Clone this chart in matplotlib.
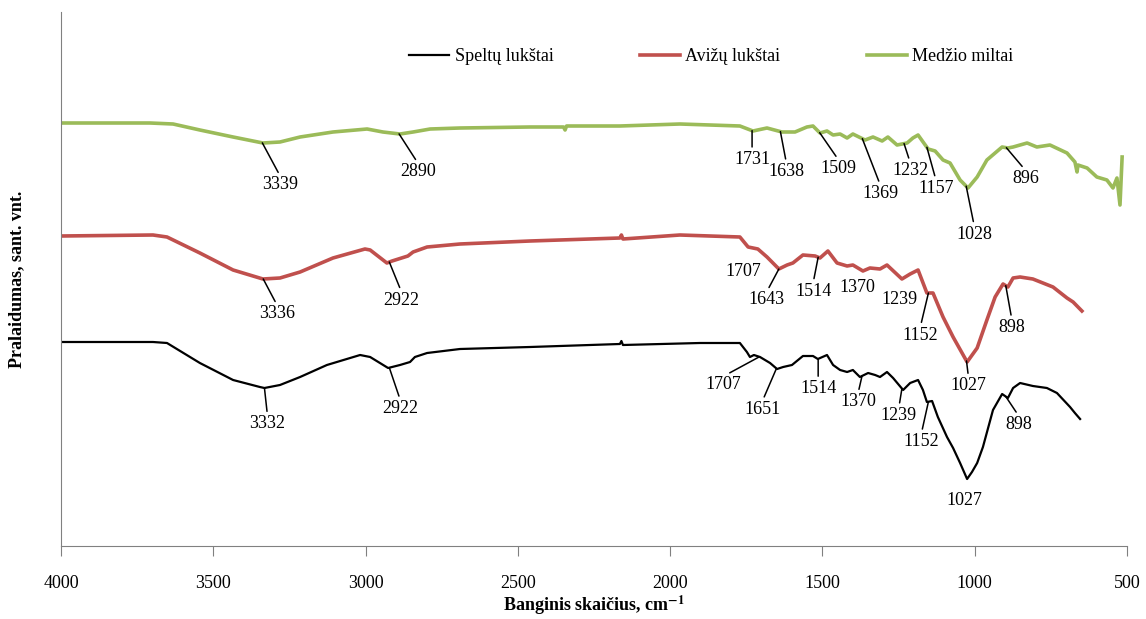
import matplotlib.pyplot as plt
import numpy as np

plt.rcParams['font.family'] = ['Liberation Serif', 'DejaVu Serif']
plt.rcParams['mathtext.fontset'] = 'stix'

# Speltų lukštai (juoda)
spelt_x = [4000, 3698, 3652, 3544, 3435, 3347, 3332, 3281, 3215, 3127, 3018, 2985, 2926, 2887,
           2854, 2838, 2798, 2690, 2460, 2165, 2160, 2155, 1902, 1771, 1748, 1738, 1725, 1705,
           1672, 1649, 1629, 1600, 1580, 1564, 1531, 1515, 1485, 1465, 1442, 1419, 1400, 1377,
           1350, 1327, 1311, 1288, 1268, 1235, 1212, 1186, 1170, 1157, 1140, 1121, 1091, 1071,
           1048, 1025, 1009, 992, 973, 940, 910, 891, 874, 851, 809, 763, 730, 687, 671, 654]
spelt_y = [204, 204, 203, 183, 166, 159, 158, 161, 169, 181, 191, 189, 178, 181,
           184, 189, 193, 197, 199, 202, 205, 201, 203, 203, 194, 189, 191, 189,
           183, 177, 179, 181, 186, 190, 190, 187, 191, 181, 176, 174, 176, 169,
           173, 171, 169, 174, 168, 156, 163, 166, 156, 144, 145, 129, 109, 98,
           83, 67, 74, 83, 99, 136, 152, 148, 158, 163, 160, 158, 153, 139, 133, 127]

# Avižų lukštai (raudona)
oat_x = [4000, 3698, 3652, 3544, 3435, 3337, 3281, 3215, 3107, 3002, 2985, 2930, 2913, 2861,
         2844, 2798, 2690, 2460, 2165, 2160, 2155, 1968, 1771, 1744, 1712, 1682, 1643, 1616,
         1597, 1564, 1524, 1508, 1482, 1452, 1419, 1400, 1367, 1344, 1311, 1288, 1239, 1212,
         1186, 1157, 1137, 1104, 1071, 1025, 992, 960, 933, 907, 891, 874, 851, 809, 743,
         697, 677, 648]
oat_y = [310, 311, 309, 293, 276, 267, 268, 274, 288, 297, 296, 283, 285, 290,
         294, 299, 302, 305, 308, 311, 307, 311, 309, 299, 297, 289, 277, 281,
         283, 291, 290, 288, 295, 283, 280, 281, 275, 278, 277, 281, 267, 272,
         276, 253, 253, 229, 209, 184, 198, 226, 249, 262, 259, 268, 269, 267, 259,
         248, 244, 235]

# Medžio miltai (žalia)
wood_x = [4000, 3708, 3632, 3544, 3435, 3337, 3281, 3215, 3107, 2995, 2943, 2887, 2844, 2788,
          2690, 2460, 2350, 2345, 2340, 2165, 1968, 1771, 1728, 1682, 1633, 1590, 1551, 1531,
          1508, 1485, 1465, 1442, 1419, 1400, 1360, 1334, 1304, 1285, 1255, 1222, 1203, 1186,
          1153, 1130, 1104, 1081, 1048, 1022, 992, 960, 910, 891, 874, 828, 796, 753, 697,
          671, 664, 661, 631, 599, 566, 546, 533, 523, 516]
wood_y = [423, 423, 422, 416, 409, 403, 404, 409, 414, 417, 414, 412, 414, 417,
          418, 419, 419, 416, 420, 420, 422, 420, 415, 418, 414, 414, 419, 420,
          413, 415, 411, 412, 408, 412, 406, 409, 405, 409, 401, 403, 408, 411,
          397, 395, 386, 383, 366, 358, 369, 386, 399, 398, 399, 403, 399, 401, 393,
          384, 374, 381, 378, 369, 366, 358, 368, 341, 389]

spelt_peaks = [3332, 2922, 1707, 1651, 1514, 1370, 1239, 1152, 1027, 898]
oat_peaks = [3336, 2922, 1707, 1643, 1514, 1370, 1239, 1152, 1027, 898]
wood_peaks = [3339, 2890, 1731, 1638, 1509, 1369, 1232, 1157, 1028, 896]

# teksto poslinkiai (px) nuo kreivės taško; 0 -> be linijos
spelt_off = [(3, 36, 1), (11, 41, 1), (-36, 28, 1), (-14, 41, 1), (0, 30, 1), (-4, 26, 1),
             (-3, 27, 1), (-7, 40, 1), (-2, 23, 0), (13, 28, 1)]
oat_off = [(14, 35, 1), (12, 38, 1), (-16, 21, 0), (-12, 31, 1), (-5, 34, 1), (-5, 17, 0),
           (-2, 20, 0), (-8, 42, 1), (2, 25, 1), (6, 42, 1)]
wood_off = [(18, 42, 1), (19, 38, 1), (0, 29, 1), (6, 40, 1), (19, 36, 1), (18, 55, 1),
            (6, 27, 1), (9, 41, 1), (8, 48, 1), (19, 31, 1)]

fig = plt.figure(figsize=(11.46, 6.19), dpi=100)
ax = fig.add_axes([61 / 1146, 1 - 546 / 619, 1066 / 1146, 534 / 619])

ax.plot(spelt_x, spelt_y, color='black', lw=1.6, label='Speltų lukštai', solid_joinstyle='round')
ax.plot(oat_x, oat_y, color='#C0504D', lw=2.6, label='Avižų lukštai', solid_joinstyle='round')
ax.plot(wood_x, wood_y, color='#9BBB59', lw=2.6, label='Medžio miltai', solid_joinstyle='round')


def label_peaks(xs, ys, peaks, offs):
    for p, (dx, dy, line) in zip(peaks, offs):
        yp = np.interp(p, xs[::-1], ys[::-1])
        props = None
        if line:
            props = dict(arrowstyle='-', color='black', lw=1.1, shrinkA=1, shrinkB=0,
                         relpos=(0.5, 1))
        ax.annotate(str(p), xy=(p, yp), xytext=(dx, -dy), textcoords='offset pixels',
                    ha='center', va='center', fontsize=13, arrowprops=props)


label_peaks(spelt_x, spelt_y, spelt_peaks, spelt_off)
label_peaks(oat_x, oat_y, oat_peaks, oat_off)
label_peaks(wood_x, wood_y, wood_peaks, wood_off)

ax.set_xlim(4000, 500)
ax.set_ylim(0, 534)
ax.set_xticks(np.arange(4000, 499, -500))
ax.set_yticks([])
ax.tick_params(axis='x', direction='out', length=7, pad=14, labelsize=13, color='#808080')
for s in ['top', 'right']:
    ax.spines[s].set_visible(False)
for s in ['left', 'bottom']:
    ax.spines[s].set_color('#808080')

ax.set_xlabel(r'Banginis skaičius, cm$^{\mathbf{-1}}$', fontsize=13, fontweight='bold', labelpad=1)
ax.set_ylabel('Pralaidumas, sant. vnt.', fontsize=13, fontweight='bold', labelpad=26)

ax.legend(loc='center', bbox_to_anchor=(0.61, 0.916), ncol=3, frameon=False, fontsize=13,
          handlelength=2.2, handletextpad=0.3, columnspacing=4.8)

plt.savefig('out.png', dpi=100)
